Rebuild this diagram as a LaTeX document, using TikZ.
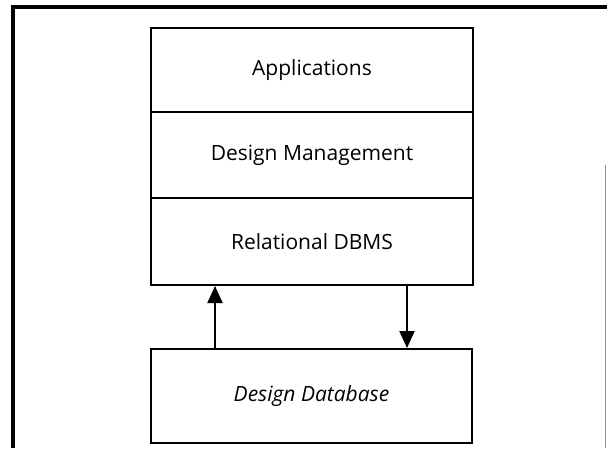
\documentclass[tikz,border=0pt]{standalone}
\usepackage{fontspec}
\setmainfont{Open Sans}
\usetikzlibrary{arrows.meta}
\begin{document}
\begin{tikzpicture}[x=1pt,y=-1pt,
  layer/.style={draw=black,line width=2pt,minimum width=322pt,inner sep=0pt,font=\fontsize{21}{24}\selectfont},
  link/.style={line width=2pt,-{Triangle[length=17pt,width=15pt]}}]
\useasboundingbox (0,0) rectangle (607,448);
% outer frame
\draw[line width=4pt] (13,448) -- (13,7) -- (607,7);
\draw[line width=1pt,black!45] (605,165) -- (605,448);
% stack
\node[layer,minimum height=84pt,anchor=north west] (app) at (150,27) {Applications};
\node[layer,minimum height=86pt,anchor=north west] (dm) at (150,111) {Design Management};
\node[layer,minimum height=87pt,anchor=north west] (rdb) at (150,197) {Relational DBMS};
\node[layer,minimum height=94pt,minimum width=321pt,anchor=north west] (db) at (150,348) {\itshape Design Database};
% connectors
\coordinate (upS) at (215,348);
\coordinate (upE) at (215,284);
\coordinate (dnS) at (407,284);
\coordinate (dnE) at (407,348);
\draw[link] (db.north -| upS) -- (rdb.south -| upE);
\draw[link] (rdb.south -| dnS) -- (db.north -| dnE);
\end{tikzpicture}
\end{document}
